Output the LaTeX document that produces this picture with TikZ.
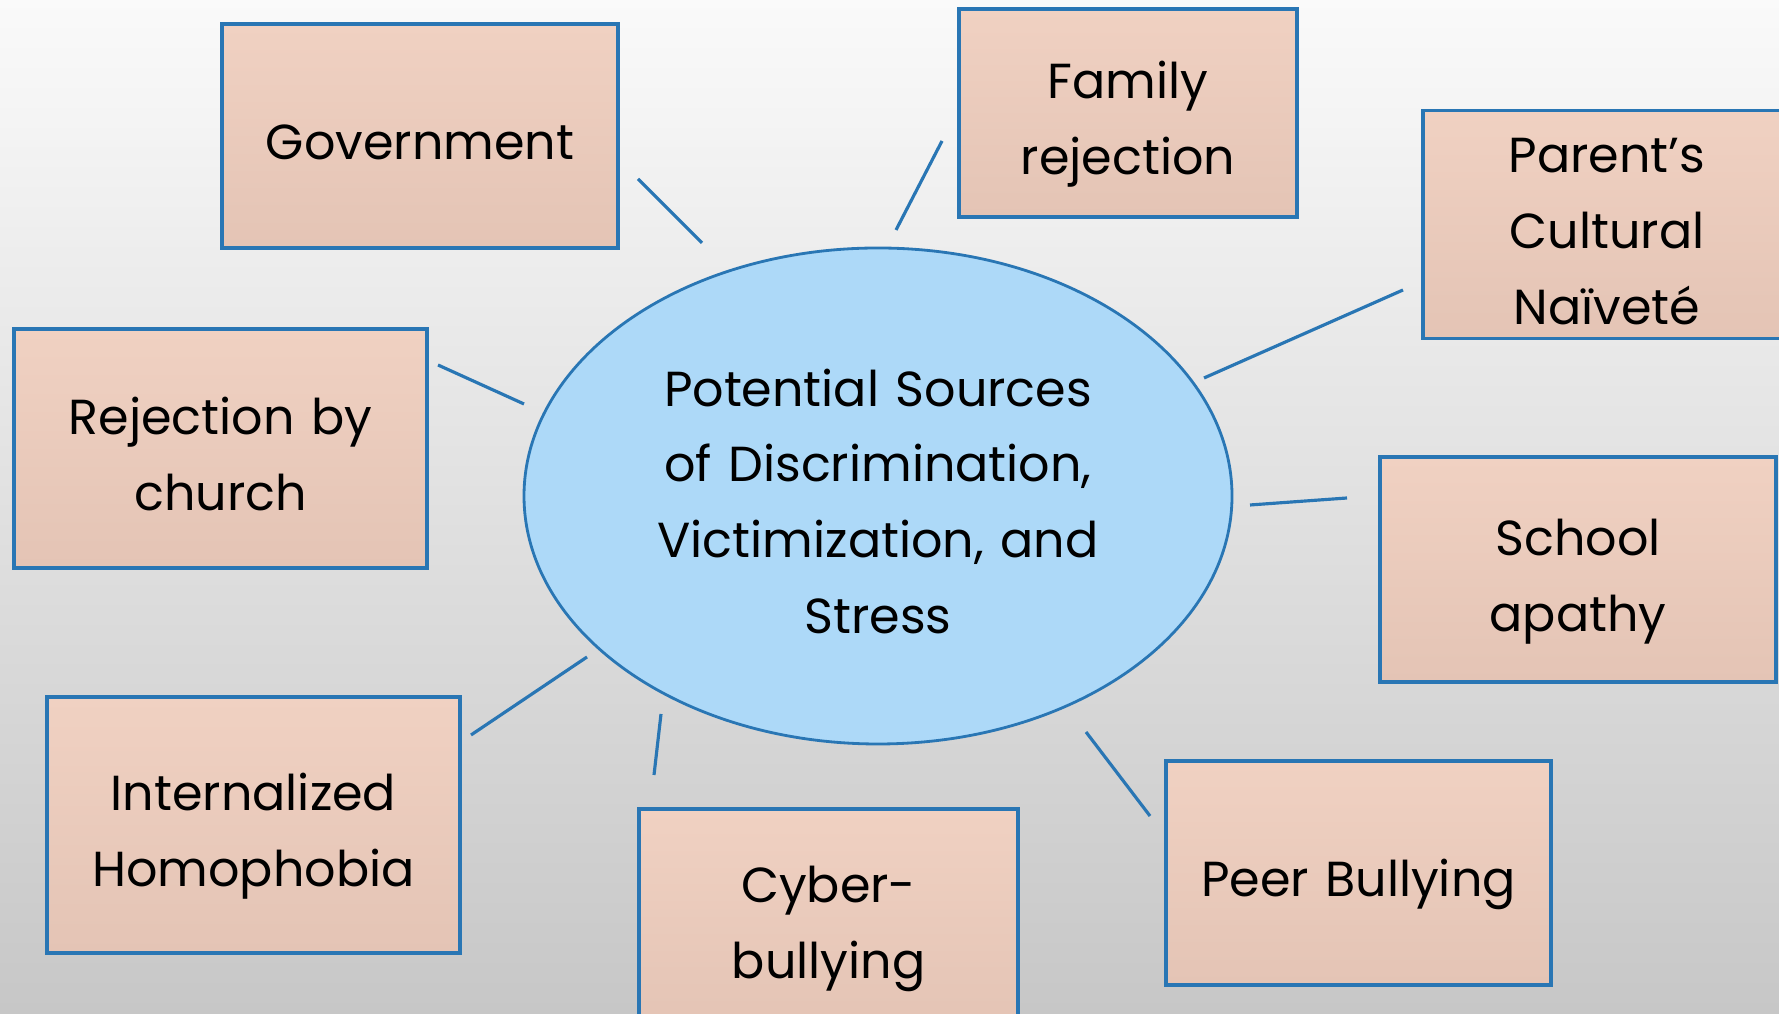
\documentclass[tikz,border=0pt]{standalone}
\usepackage{fontspec}
\setmainfont{Poppins}
\usetikzlibrary{shapes.geometric}
\usepackage{xcolor}

\definecolor{edgeblue}{RGB}{41,118,180}
\definecolor{boxtop}{RGB}{240,209,194}
\definecolor{boxbot}{RGB}{228,196,181}
\definecolor{ellblue}{RGB}{173,217,248}

\tikzset{
  srctext/.style={align=center, text width=3.3cm, inner sep=0pt, font=\fontsize{14}{21.6}\selectfont,
    execute at begin node={\rule{0pt}{17.6pt}}, execute at end node={\rule[-4pt]{0pt}{4pt}}},
  srcbox/.style={srctext, draw=edgeblue, line width=0.9pt, top color=boxtop, bottom color=boxbot},
  link/.style={draw=edgeblue, line width=0.9pt},
}

\begin{document}
\begin{tikzpicture}
  \clip (0,0) rectangle (17.79,10.14);
  \shade[top color=black!2, middle color=black!6, bottom color=black!22] (0,0) rectangle (17.79,10.14);
  % centre
  \node[ellipse, srctext, text width=4.6cm, draw=edgeblue, line width=0.8pt, fill=ellblue, minimum width=7.08cm, minimum height=4.96cm] (src) at (8.78,5.18)
    {Potential Sources\\of Discrimination,\\Victimization, and\\Stress};
  % boxes
  \node[srcbox, minimum width=3.96cm, minimum height=2.24cm] (gov) at (4.20,8.78) {Government};
  \node[srcbox, minimum width=3.38cm, minimum height=2.08cm] (fam) at (11.28,9.01) {Family\\rejection};
  \node[srcbox, minimum width=3.68cm, minimum height=2.25cm] (par) at (16.07,7.895) {Parent’s\\Cultural\\Naïveté};
  \node[srcbox, minimum width=4.13cm, minimum height=2.39cm] (chu) at (2.205,5.655) {Rejection by\\church};
  \node[srcbox, minimum width=3.96cm, minimum height=2.25cm] (sch) at (15.78,4.445) {School\\apathy};
  \node[srcbox, minimum width=4.13cm, minimum height=2.56cm] (hom) at (2.535,1.89) {Internalized\\Homophobia};
  \node[srcbox, minimum width=3.79cm, minimum height=2.16cm] (cyb) at (8.285,0.97) {Cyber-\\bullying};
  \node[srcbox, minimum width=3.85cm, minimum height=2.24cm] (peer) at (13.585,1.41) {Peer Bullying};
  % connector ends
  \coordinate (gov-a) at (6.38,8.35);  \coordinate (gov-b) at (7.02,7.71);
  \coordinate (fam-a) at (9.42,8.73);  \coordinate (fam-b) at (8.96,7.84);
  \coordinate (par-a) at (14.03,7.24); \coordinate (par-b) at (12.04,6.36);
  \coordinate (chu-a) at (4.38,6.49);  \coordinate (chu-b) at (5.24,6.10);
  \coordinate (sch-a) at (13.47,5.16); \coordinate (sch-b) at (12.50,5.09);
  \coordinate (hom-a) at (4.71,2.79);  \coordinate (hom-b) at (5.87,3.57);
  \coordinate (cyb-a) at (6.54,2.39);  \coordinate (cyb-b) at (6.61,3.00);
  \coordinate (peer-a) at (11.50,1.98); \coordinate (peer-b) at (10.86,2.82);
  \draw[link] (gov-a) -- (gov-b);
  \draw[link] (fam-a) -- (fam-b);
  \draw[link] (par-a) -- (par-b);
  \draw[link] (chu-a) -- (chu-b);
  \draw[link] (sch-a) -- (sch-b);
  \draw[link] (hom-a) -- (hom-b);
  \draw[link] (cyb-a) -- (cyb-b);
  \draw[link] (peer-a) -- (peer-b);
\end{tikzpicture}
\end{document}
